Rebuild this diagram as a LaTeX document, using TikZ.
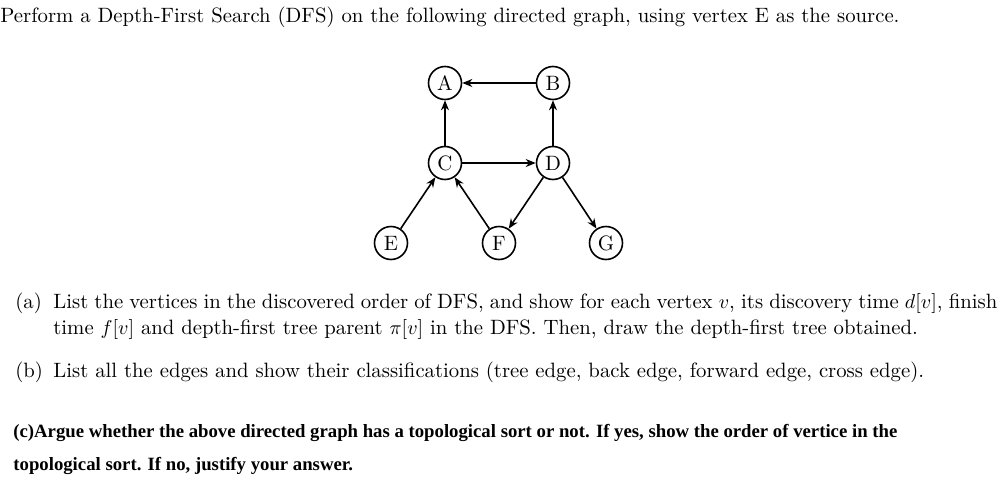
\documentclass[tikz,border=0pt]{standalone}
\usepackage{fontspec}
\newfontfamily\partcfont{Liberation Serif}
\usetikzlibrary{arrows.meta}
\begin{document}
\begin{tikzpicture}[x=0.5pt, y=-0.5pt,
    vtx/.style={draw, circle, thick, minimum size=16.5pt, inner sep=0pt, font=\fontsize{10.4}{12}\selectfont},
    arc/.style={-{Stealth[length=5pt,width=4pt]}, thick},
    line/.style={anchor=base west, inner sep=0pt, font=\fontsize{10.37}{12}\selectfont},
    cline/.style={line, font=\partcfont\bfseries\fontsize{9.37}{11}\selectfont}]
  \useasboundingbox (0,0) rectangle (1002,477);
  \node[line] (title) at (0,22) {Perform a Depth-First Search (DFS) on the following directed graph, using vertex E as the source.};
  % graph
  \node[vtx] (A) at (445,83) {A}; \node[vtx] (B) at (553,83) {B};
  \node[vtx] (C) at (445,163) {C}; \node[vtx] (D) at (553,163) {D};
  \node[vtx] (E) at (391,243) {E}; \node[vtx] (F) at (499,243) {F}; \node[vtx] (G) at (606,243) {G};
  \draw[arc] (B) -- (A); \draw[arc] (C) -- (A); \draw[arc] (D) -- (B); \draw[arc] (C) -- (D);
  \draw[arc] (E) -- (C); \draw[arc] (F) -- (C); \draw[arc] (D) -- (F); \draw[arc] (D) -- (G);
  % questions
  \node[line] (qa) at (15,308) {(a)};
  \node[line] (qa1) at (53,308) {\makebox[472pt][s]{List the vertices in the discovered order of DFS, and show for each vertex $v$, its discovery time $d[v]$, finish}};
  \node[line] (qa2) at (53,334) {time $f[v]$ and depth-first tree parent $\pi[v]$ in the DFS. Then, draw the depth-first tree obtained.};
  \node[line] (qb) at (15,377) {(b)};
  \node[line] (qb1) at (53,377) {List all the edges and show their classifications (tree edge, back edge, forward edge, cross edge).};
  \node[cline] (qc1) at (13,437) {(c)Argue whether the above directed graph has a topological sort or not. If yes, show the order of vertice in the};
  \node[cline] (qc2) at (13,470) {topological sort. If no, justify your answer.};
\end{tikzpicture}
\end{document}
